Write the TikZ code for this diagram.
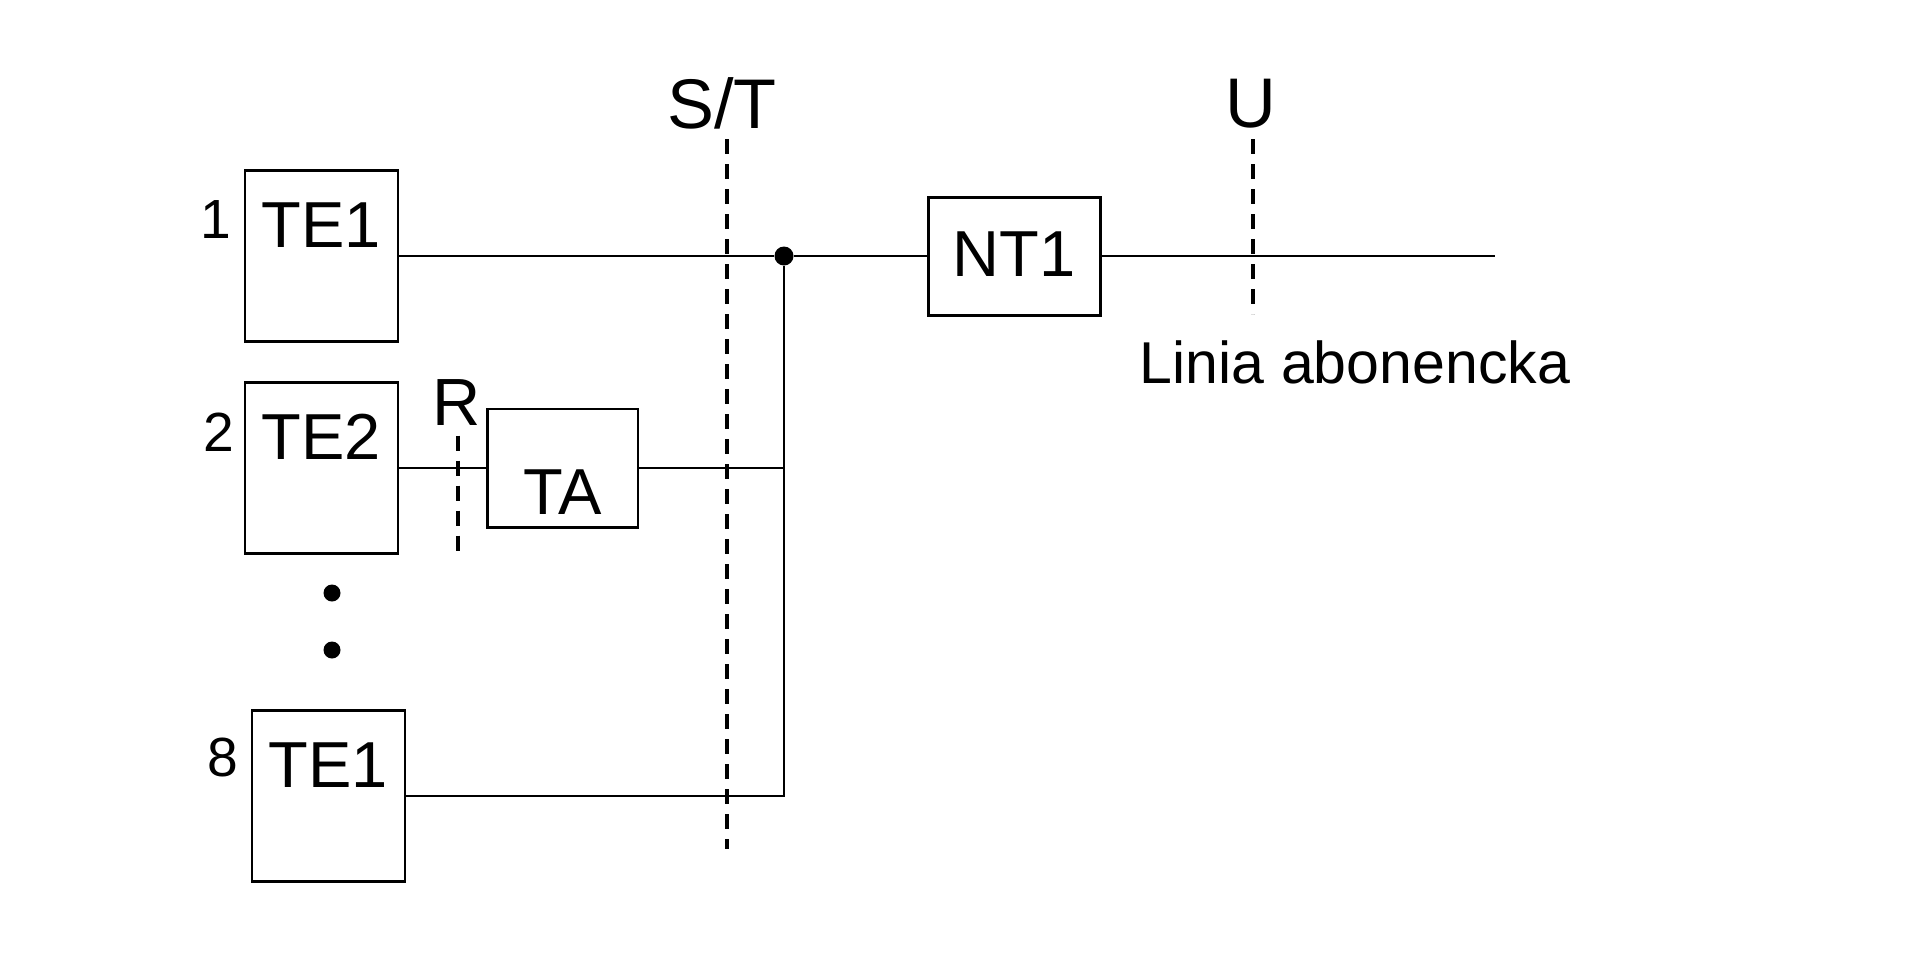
\documentclass[tikz,border=0pt]{standalone}
\usepackage{fontspec}
\setmainfont{Liberation Sans}
\usetikzlibrary{positioning}

\begin{document}
\begin{tikzpicture}[
  x=0.1mm, y=-0.1mm,
  box/.style={draw, line width=0.85pt, inner xsep=0pt, inner ysep=0pt,
              font=\fontsize{18.5}{20}\selectfont},
  term/.style={box, minimum width=15.3mm, text height=7.7mm, text depth=9.4mm},
  wire/.style={line width=0.65pt},
  refline/.style={line width=1.1pt, dash pattern=on 1.5mm off 1mm},
  num/.style={font=\fontsize{15.7}{17}\selectfont, inner sep=0pt},
  lbl/.style={font=\fontsize{20}{22}\selectfont, inner sep=0pt},
  dot/.style={circle, fill, inner sep=0pt, minimum size=1.9mm}
]
\useasboundingbox (0,0) rectangle (1924,965);

% terminals and adapters
\node[term] (te1) at (321.5,256) {TE1};
\node[term, below=3.8mm of te1] (te2) {TE2};
\node[term, below=15.4mm of te2, xshift=0.7mm] (te8) {TE1};
\node[box, minimum width=15mm, text height=10.5mm, text depth=1.3mm,
      right=8.7mm of te2] (ta) {TA};
\node[box, minimum width=17.2mm, text height=7.9mm, text depth=3.9mm] (nt1) at (1014,256) {NT1};

\node[num, anchor=base east] (n1) at ([shift={(-12,-9.5)}]te1.base west) {1};
\node[num, anchor=base east] (n2) at ([shift={(-9,-8.5)}]te2.base west) {2};
\node[num, anchor=base east] (n8) at ([shift={(-12,-10.5)}]te8.base west) {8};

\node[dot, minimum size=1.7mm] (vd1) at (332,593) {};
\node[dot, minimum size=1.7mm] (vd2) at (332,650) {};

% bus
\node[dot] (jdot) at (784,256) {};
\coordinate (lineend) at (1495,256);

\draw[wire] (te1.east) -- (jdot) -- (nt1.west);
\draw[wire] (nt1.east) -- (lineend);
\draw[wire] (te2.east) -- (ta.west);
\draw[wire] (ta.east) -- (ta.east -| jdot);
\draw[wire] (te8.east) -| (jdot);

% reference points
\node[lbl, anchor=base] (st) at (722,128) {S/T};
\node[lbl, anchor=base] (u) at (1251,127) {U};
\node[lbl, font=\fontsize{19}{21}\selectfont, anchor=base] (r) at (457,425) {R};
\node[inner sep=0pt, font=\fontsize{16.8}{18}\selectfont, anchor=base] (linia) at (1355,383) {Linia abonencka};

\draw[refline] ([shift={(5,10)}]st.south) -- ++(0,710);
\draw[refline] ([shift={(2,11)}]u.south) -- ++(0,175);
\draw[refline] ([shift={(1,10)}]r.south) -- ++(0,120);
\end{tikzpicture}
\end{document}
